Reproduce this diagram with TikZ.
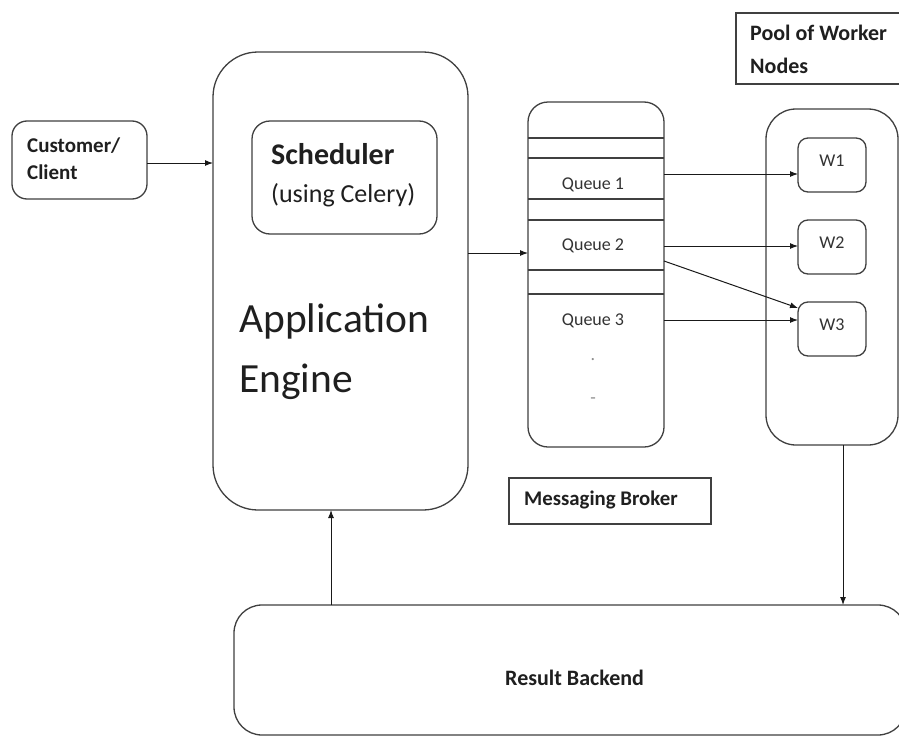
\documentclass[tikz,border=0pt]{standalone}
\usepackage{fontspec}
\setmainfont{Carlito}
\usetikzlibrary{arrows.meta,calc}
\begin{document}
\begin{tikzpicture}[x=1pt,y=-1pt,
  box/.style={draw=black!75, line width=1.3pt, outer sep=0pt, inner sep=0pt},
  arr/.style={draw=black!90, line width=1pt, -{Latex[length=8pt,width=6pt]}},
  rowline/.style={draw=black!75, line width=1.2pt},
  lbl/.style={inner sep=0pt, anchor=base west, text=black!88},
  qtxt/.style={inner sep=0pt, anchor=base, text=black!80, font=\fontsize{18}{21}\selectfont}
]
\useasboundingbox (0,0) rectangle (899,736);
\fill[white] (0,0) rectangle (899,736);
\begin{scope}
\clip (0,0) rectangle (899,736);

% boxes
\node[box, rounded corners=15pt, minimum width=135pt, minimum height=78pt] (cust) at (79.5,160) {};
\node[box, rounded corners=45pt, minimum width=255pt, minimum height=458pt] (app) at (340.5,281) {};
\node[box, rounded corners=18pt, minimum width=185pt, minimum height=113pt] (sched) at (344.5,177.5) {};
\node[box, rounded corners=20pt, minimum width=136pt, minimum height=345pt] (queue) at (596,274.5) {};
\node[box, rounded corners=30pt, minimum width=132pt, minimum height=336pt] (pool) at (832,277) {};
\node[box, rounded corners=10pt, minimum width=68pt, minimum height=54pt] (w1) at (832,165) {};
\node[box, rounded corners=10pt, minimum width=68pt, minimum height=54pt] (w2) at (832,247) {};
\node[box, rounded corners=10pt, minimum width=68pt, minimum height=54pt] (w3) at (832,329) {};
\node[box, draw=none, minimum width=180pt, minimum height=71pt] (poollbl) at (826,48.5) {};
\draw[draw=black!75, line width=1.3pt] (poollbl.north east) -- (poollbl.north west) -- (poollbl.south west) -- (poollbl.south east);
\node[box, rounded corners=0pt, minimum width=202pt, minimum height=46pt] (broker) at (610,501) {};
\node[box, rounded corners=28pt, minimum width=672pt, minimum height=130pt] (result) at (570,670) {};

% texts
\node[lbl, font=\bfseries\fontsize{21}{24}\selectfont] (tc1) at (27,152) {Customer/};
\node[lbl, font=\bfseries\fontsize{21}{24}\selectfont] (tc2) at (27,179) {Client};
\node[lbl, font=\bfseries\fontsize{30}{34}\selectfont] (ts1) at (271,164) {Scheduler};
\node[lbl, font=\fontsize{26}{30}\selectfont] (ts2) at (271,202) {(using Celery)};
\node[lbl, font=\fontsize{41.5}{46}\selectfont] (ta1) at (239,332) {Application};
\node[lbl, font=\fontsize{41.5}{46}\selectfont] (ta2) at (239,392) {Engine};
\node[lbl, font=\bfseries\fontsize{22}{25}\selectfont] (tp1) at (750,40) {Pool of Worker};
\node[lbl, font=\bfseries\fontsize{22}{25}\selectfont] (tp2) at (750,73) {Nodes};
\node[lbl, font=\bfseries\fontsize{20.8}{24}\selectfont] (tb) at (524,505) {Messaging Broker};
\node[lbl, font=\bfseries\fontsize{22}{25}\selectfont] (tr) at (505,685) {Result Backend};

% queue rows
\foreach \yy in {138,158,199,220,270,294}
  \draw[rowline] (queue.west |- 0,\yy) -- (queue.east |- 0,\yy);
\node[qtxt] (q1) at (593,189) {Queue 1};
\node[qtxt] (q2) at (593,250) {Queue 2};
\node[qtxt] (q3) at (593,325) {Queue 3};
\node[qtxt, text=black!45] (d1) at (593,360) {.};
\node[qtxt, text=black!45] (d2) at (593,403) {-};

% worker labels
\node[qtxt] (tw1) at (w1.center |- 0,166) {W1};
\node[qtxt] (tw2) at (w2.center |- 0,248) {W2};
\node[qtxt] (tw3) at (w3.center |- 0,330) {W3};

% connector heights
\coordinate (yc) at (0,163);
\coordinate (ya) at (0,253);
\coordinate (y1) at (0,174);
\coordinate (y2) at (0,246);
\coordinate (y2b) at (0,261);
\coordinate (y3b) at (0,308);
\coordinate (y3) at (0,320);
\coordinate (xu) at (331,0);
\coordinate (xd) at (843,0);

% connectors
\draw[arr] (cust.east |- yc) -- (app.west |- yc);
\draw[arr] (app.east |- ya) -- (queue.west |- ya);
\draw[arr] (queue.east |- y1) -- (w1.west |- y1);
\draw[arr] (queue.east |- y2) -- (w2.west |- y2);
\draw[arr] (queue.east |- y2b) -- (w3.west |- y3b);
\draw[arr] (queue.east |- y3) -- (w3.west |- y3);
\draw[arr] (result.north -| xu) -- (app.south -| xu);
\draw[arr] (pool.south -| xd) -- (result.north -| xd);
\end{scope}
\end{tikzpicture}
\end{document}
